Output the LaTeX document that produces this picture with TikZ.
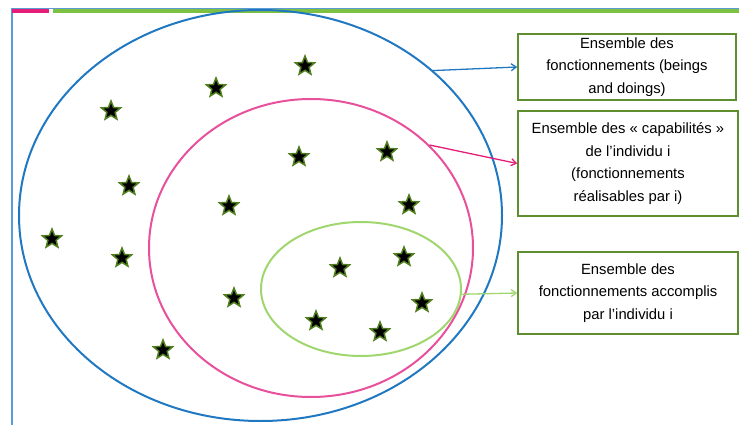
\documentclass[tikz,border=0pt]{standalone}
\usepackage{fontspec}
\setmainfont{Liberation Sans}
\usepackage{tikz}
\usetikzlibrary{arrows.meta,shapes.geometric}
\definecolor{SetBlue}{RGB}{31,120,193}
\definecolor{SetPink}{RGB}{232,80,155}
\definecolor{SetGreen}{RGB}{160,214,110}
\definecolor{BoxGreen}{RGB}{94,142,46}
\definecolor{FrameBlue}{RGB}{91,155,213}
\definecolor{BarPink}{RGB}{226,30,120}
\definecolor{BarGreen}{RGB}{125,193,66}
\definecolor{StarGreen}{RGB}{80,125,30}

\begin{document}
\begin{tikzpicture}[x=1pt,y=-1pt,>={Straight Barb[length=5pt,width=7pt]},every node/.style={font=\fontsize{14.8}{22.5}\selectfont}]
\tikzset{set/.style={ellipse,draw,line width=2pt,inner sep=0pt},box/.style={draw=BoxGreen,line width=1.5pt,align=center,inner sep=0pt},fstar/.style={star,star points=5,star point ratio=2.3,fill=black,draw=StarGreen,line width=1.5pt,minimum size=20pt,inner sep=0pt}}
\useasboundingbox (0,0) rectangle (739,425);
% frame of the slide
\draw[FrameBlue,line width=1.8pt] (12,425) -- (12,8.5) -- (739,8.5);
\draw[BarPink,line width=4pt] (12,11.5) -- (49,11.5);
\draw[BarGreen,line width=4pt] (53,11.5) -- (739,11.5);
% the three sets
\node[set,draw=SetBlue,minimum width=483pt,minimum height=411pt] (outer) at (260.5,215.5) {};
\node[set,draw=SetPink,minimum width=324pt,minimum height=298pt] (capa) at (311,248) {};
\node[set,draw=SetGreen,minimum width=200pt,minimum height=134pt] (accomp) at (361,289) {};
% functionings
\foreach \sx/\sy [count=\i] in {305/66,216/88,111/111,299/157,387/152,129/186,229/206,409/205,52/239,122/258,340/268,404/257,234/298,422/303,316/321,380/332,163/350}
  \node[fstar] (f\i) at (\sx,\sy) {};
% labels
\node[box,minimum width=218pt,minimum height=66pt] (lblout) at (627,67) {Ensemble des\\fonctionnements (beings\\and doings)};
\node[box,minimum width=220pt,minimum height=105pt] (lblcapa) at (628,163.5) {Ensemble des « capabilités »\\de l’individu i\\(fonctionnements\\réalisables par i)};
\node[box,minimum width=220pt,minimum height=82pt] (lblacc) at (628,293) {Ensemble des\\fonctionnements accomplis\\par l’individu i};
\draw[->,SetBlue,line width=1.3pt] (outer.40) -- (lblout.west);
\draw[->,BarPink,line width=1.3pt] (capa.41) -- (lblcapa.west);
\draw[->,SetGreen,line width=1.3pt] (accomp.-3) -- (lblacc.west);
\end{tikzpicture}
\end{document}
